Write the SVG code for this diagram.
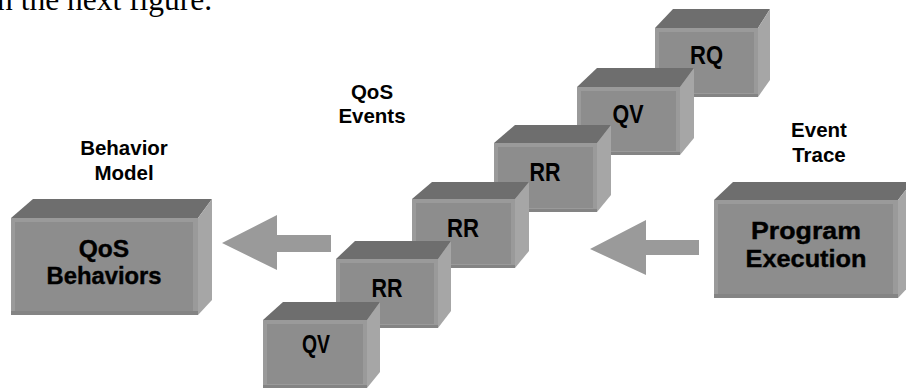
<svg xmlns="http://www.w3.org/2000/svg" width="906" height="391" viewBox="0 0 906 391">
<style>
  .top{fill:#6e6e6e}
  .side{fill:#a6a6a6}
  .bevel{fill:#9a9a9a}
  .front{fill:#8d8d8d}
  .lo{fill:#848484}
  .arrow{fill:#9a9a9a}
  .lbl{font-family:"Liberation Sans",Arial,sans-serif;font-weight:bold;font-size:20.5px;fill:#000;text-anchor:middle}
  .big{font-family:"Liberation Sans",Arial,sans-serif;font-weight:bold;font-size:24.5px;fill:#000;text-anchor:middle;stroke:#000;stroke-width:0.4}
  .sm{font-family:"Liberation Sans",Arial,sans-serif;font-weight:bold;font-size:26px;fill:#000;text-anchor:middle}
</style>
<rect width="906" height="391" fill="#fff"/>
<text x="-3" y="10" font-family="Liberation Serif,'Times New Roman',serif" font-size="31.5" fill="#000">n the next figure.</text>

<text class="lbl" x="124" y="155">Behavior</text>
<text class="lbl" x="124" y="180">Model</text>
<text class="lbl" x="372" y="99">QoS</text>
<text class="lbl" x="372" y="123">Events</text>
<text class="lbl" x="819" y="137">Event</text>
<text class="lbl" x="819" y="162">Trace</text>

<g id="connectors">
  <polygon class="arrow" points="331,235 277,235 277,215 222,243 277,270 277,252 331,252"/>
  <polygon class="arrow" points="699,240 646,240 646,220 590,249 646,275 646,255 699,255"/>
</g>

<g id="qos-behaviors">
  <polygon class="top" points="11,218 33,199 212,199 198,218"/>
  <polygon class="side" points="198,218 212,199 212,300 198,315"/>
  <rect class="bevel" x="11" y="218" width="187" height="97"/>
  <rect class="front" x="15" y="222" width="178" height="89"/>
  <rect class="lo" x="11" y="311" width="187" height="4"/>
  <text class="big" x="104" y="257">QoS</text>
  <text class="big" x="104" y="284" textLength="115" lengthAdjust="spacingAndGlyphs">Behaviors</text>
</g>

<g id="program-execution">
  <polygon class="top" points="714,200 733,182 912,182 898,200"/>
  <polygon class="side" points="898,200 912,182 912,283 898,298"/>
  <rect class="bevel" x="714" y="200" width="184" height="98"/>
  <rect class="front" x="718" y="204" width="175" height="90"/>
  <rect class="lo" x="714" y="294" width="184" height="4"/>
  <text class="big" x="806" y="239" textLength="110" lengthAdjust="spacingAndGlyphs">Program</text>
  <text class="big" x="806" y="267" textLength="121" lengthAdjust="spacingAndGlyphs">Execution</text>
</g>

<g id="ev-rq">
  <polygon class="top" points="655,28 673,9 770,9 758,28"/>
  <polygon class="side" points="758,28 770,9 770,80 758,97"/>
  <rect class="bevel" x="655" y="28" width="103" height="69"/>
  <rect class="front" x="659" y="32" width="95" height="61"/>
  <rect class="lo" x="655" y="94" width="103" height="3"/>
  <text class="sm" x="706.5" y="64" textLength="33" lengthAdjust="spacingAndGlyphs">RQ</text>
</g>

<g id="ev-qv2">
  <polygon class="top" points="577,87 597,68 694,68 680,87"/>
  <polygon class="side" points="680,87 694,68 694,138 680,155"/>
  <rect class="bevel" x="577" y="87" width="103" height="68"/>
  <rect class="front" x="581" y="91" width="95" height="60"/>
  <rect class="lo" x="577" y="152" width="103" height="3"/>
  <text class="sm" x="628" y="123" textLength="31" lengthAdjust="spacingAndGlyphs">QV</text>
</g>

<g id="ev-rr3">
  <polygon class="top" points="494,143 515,125 611,125 597,143"/>
  <polygon class="side" points="597,143 611,125 611,195 597,212"/>
  <rect class="bevel" x="494" y="143" width="103" height="69"/>
  <rect class="front" x="498" y="147" width="95" height="61"/>
  <rect class="lo" x="494" y="209" width="103" height="3"/>
  <text class="sm" x="545" y="181" textLength="31" lengthAdjust="spacingAndGlyphs">RR</text>
</g>

<g id="ev-rr2">
  <polygon class="top" points="412,199 432,182 529,182 515,199"/>
  <polygon class="side" points="515,199 529,182 529,251 515,268"/>
  <rect class="bevel" x="412" y="199" width="103" height="69"/>
  <rect class="front" x="416" y="203" width="95" height="61"/>
  <rect class="lo" x="412" y="265" width="103" height="3"/>
  <text class="sm" x="463" y="237" textLength="32" lengthAdjust="spacingAndGlyphs">RR</text>
</g>

<g id="ev-rr1">
  <polygon class="top" points="336,259 355,241 451,241 438,259"/>
  <polygon class="side" points="438,259 451,241 451,311 438,328"/>
  <rect class="bevel" x="336" y="259" width="102" height="69"/>
  <rect class="front" x="340" y="263" width="94" height="61"/>
  <rect class="lo" x="336" y="325" width="102" height="3"/>
  <text class="sm" x="387" y="297" textLength="31" lengthAdjust="spacingAndGlyphs">RR</text>
</g>

<g id="ev-qv1">
  <polygon class="top" points="263,320 283,302 380,302 367,320"/>
  <polygon class="side" points="367,320 380,302 380,372 367,388"/>
  <rect class="bevel" x="263" y="320" width="104" height="68"/>
  <rect class="front" x="267" y="324" width="96" height="60"/>
  <rect class="lo" x="263" y="385" width="104" height="3"/>
  <text class="sm" x="316" y="353" font-size="23" textLength="28" lengthAdjust="spacingAndGlyphs">QV</text>
</g>
</svg>
